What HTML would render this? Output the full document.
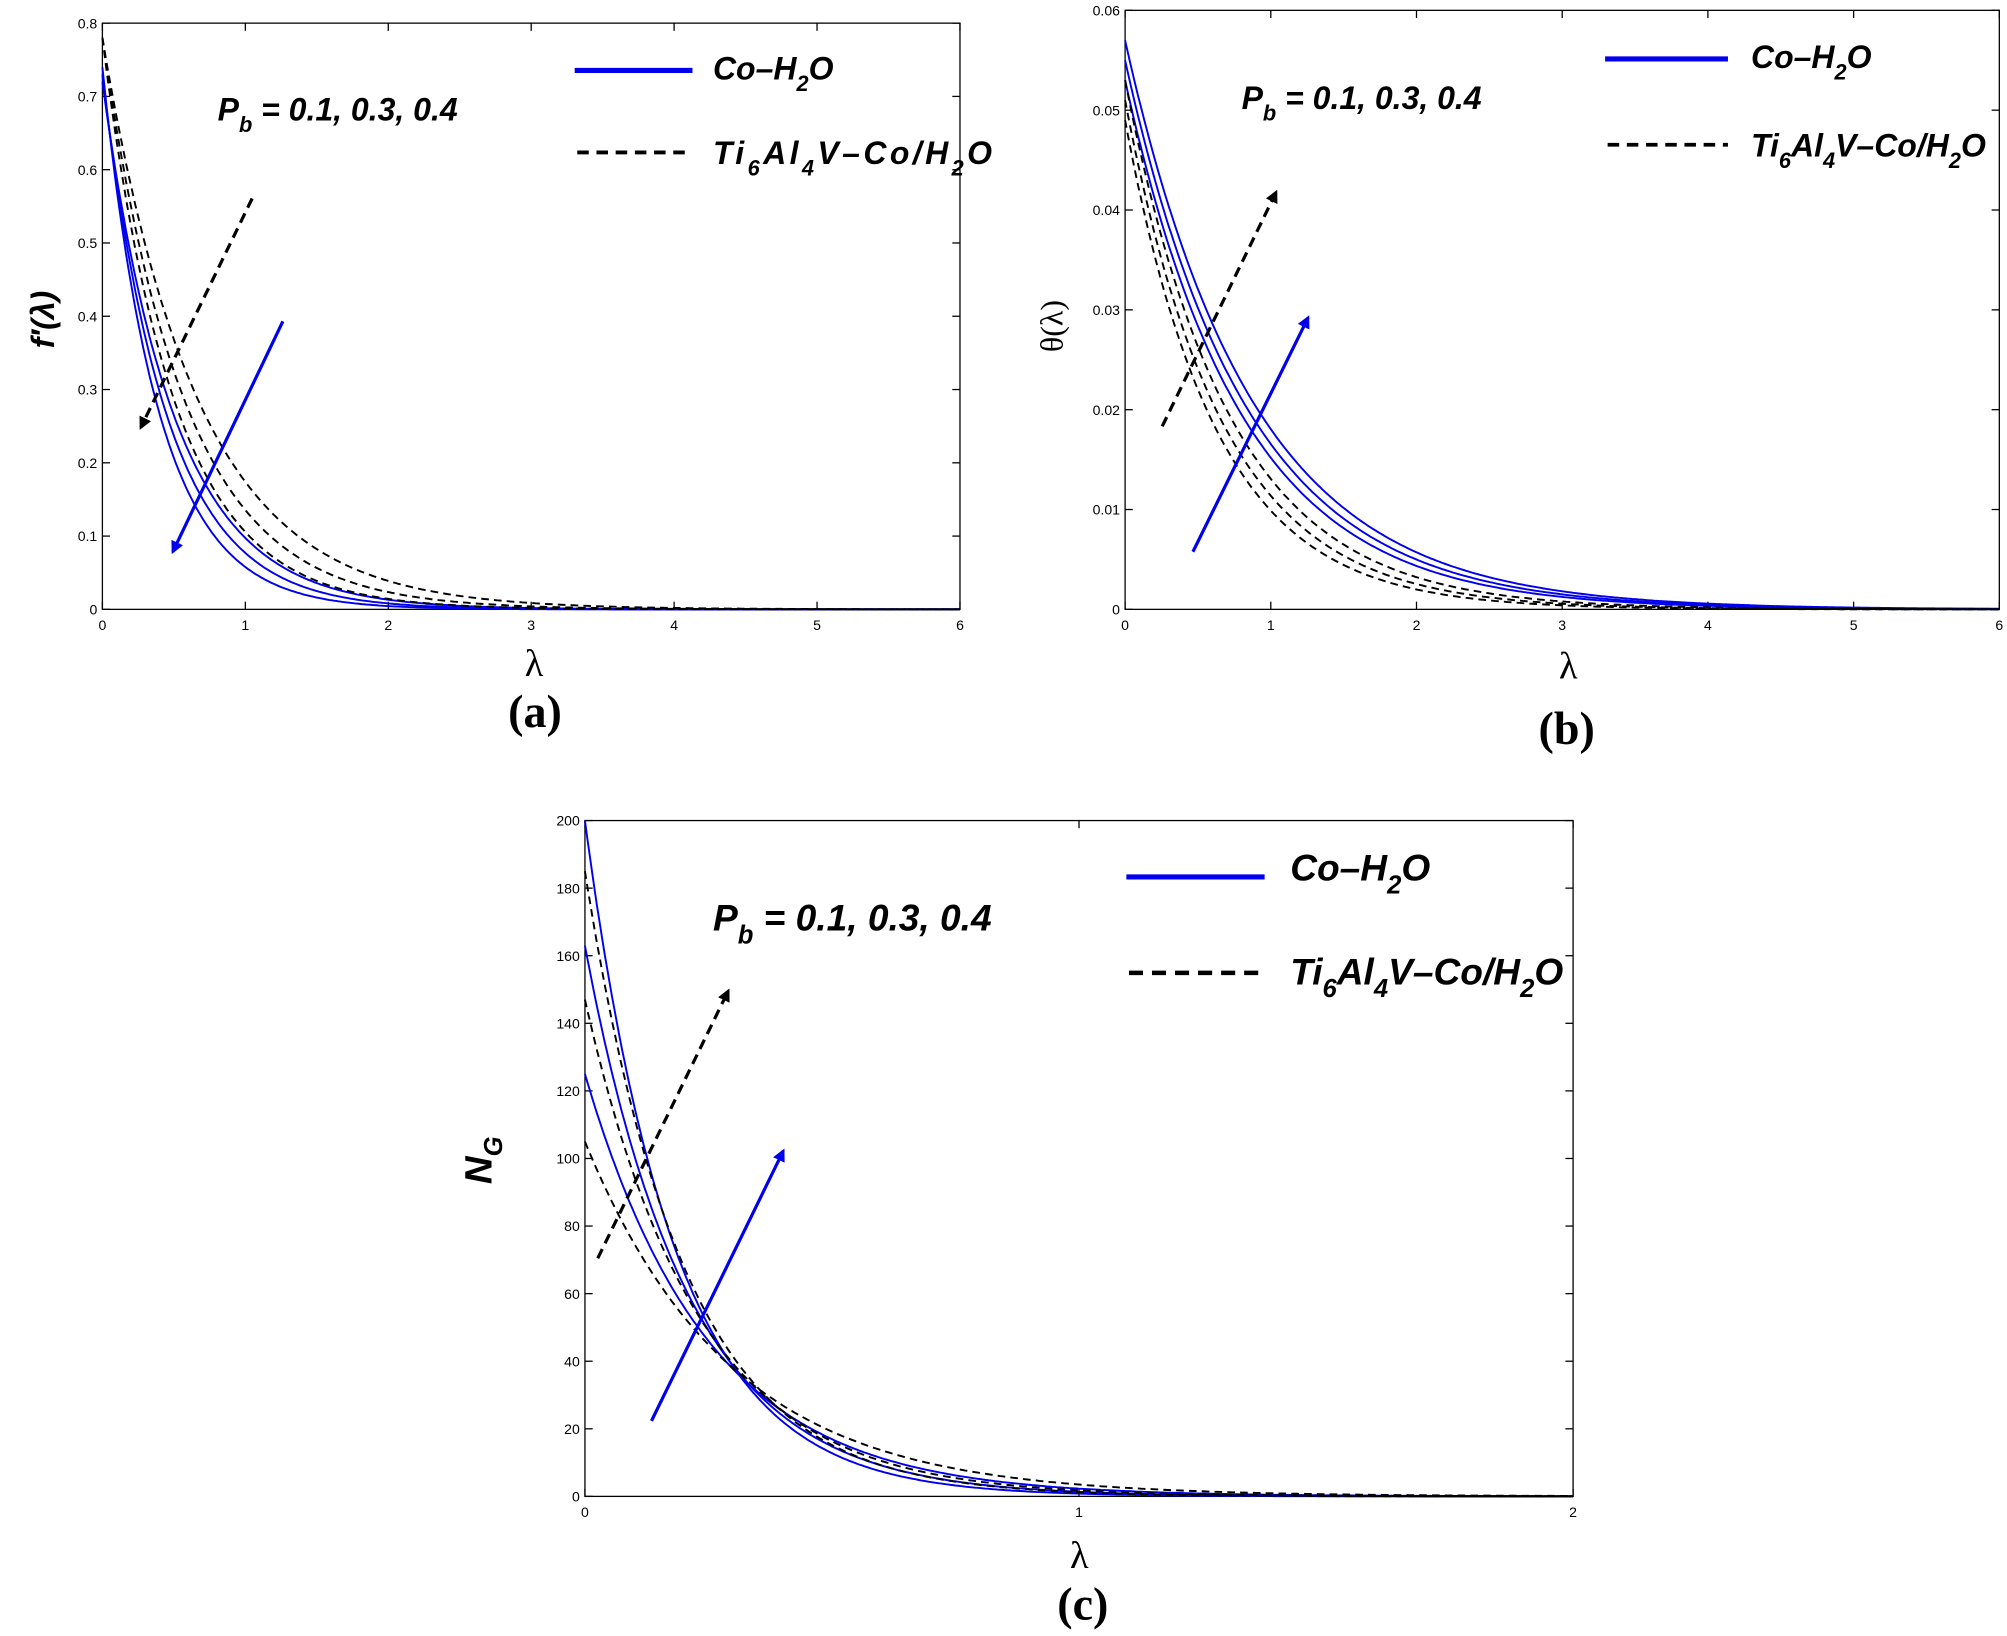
<!DOCTYPE html>
<html><head><meta charset="utf-8"><style>
html,body{margin:0;padding:0;background:#fff;}
svg{display:block;}
.t{font-family:"Liberation Sans",sans-serif;font-size:11px;fill:#000;}
.lg{font-family:"Liberation Sans",sans-serif;font-weight:bold;font-style:italic;font-size:25px;fill:#000;}
.lg2{font-family:"Liberation Sans",sans-serif;font-weight:bold;font-style:italic;font-size:29px;fill:#000;}
.cap{font-family:"Liberation Serif",serif;font-weight:bold;font-size:36px;fill:#000;}
.ax{font-family:"Liberation Serif",serif;font-size:30px;fill:#000;}
</style></head><body>
<svg id="s" width="2007" height="1636" viewBox="0 0 1568 1278" xmlns="http://www.w3.org/2000/svg">
<defs>
<marker id="ab" markerWidth="10" markerHeight="10" refX="8" refY="5" orient="auto" markerUnits="userSpaceOnUse"><path d="M0,0 L10,5 L0,10 z" fill="#0000ee"/></marker>
<marker id="ak" markerWidth="10" markerHeight="10" refX="8" refY="5" orient="auto" markerUnits="userSpaceOnUse"><path d="M0,0 L10,5 L0,10 z" fill="#000"/></marker>
</defs>
<g id="g"></g>
<line x1="449" y1="55" x2="541" y2="55" stroke="#0000ee" stroke-width="4"/>
<text class="lg" x="557" y="62">Co–H<tspan dy="9" font-size="17">2</tspan><tspan dy="-9">O</tspan></text>
<line x1="451" y1="119" x2="541" y2="119" stroke="#000" stroke-width="3" stroke-dasharray="9,6"/>
<text class="lg" x="557" y="128" textLength="218">Ti<tspan dy="9" font-size="17">6</tspan><tspan dy="-9">Al</tspan><tspan dy="9" font-size="17">4</tspan><tspan dy="-9">V–Co/H</tspan><tspan dy="9" font-size="17">2</tspan><tspan dy="-9">O</tspan></text>
<text class="lg" x="170" y="94">P<tspan dy="9" font-size="17">b</tspan><tspan dy="-9"> =  0.1, 0.3, 0.4</tspan></text>

<line x1="1254" y1="46" x2="1350" y2="46" stroke="#0000ee" stroke-width="4"/>
<text class="lg" x="1368" y="53">Co–H<tspan dy="9" font-size="17">2</tspan><tspan dy="-9">O</tspan></text>
<line x1="1256" y1="113" x2="1350" y2="113" stroke="#000" stroke-width="3" stroke-dasharray="9,6"/>
<text class="lg" x="1368" y="122">Ti<tspan dy="9" font-size="17">6</tspan><tspan dy="-9">Al</tspan><tspan dy="9" font-size="17">4</tspan><tspan dy="-9">V–Co/H</tspan><tspan dy="9" font-size="17">2</tspan><tspan dy="-9">O</tspan></text>
<text class="lg" x="970" y="85">P<tspan dy="9" font-size="17">b</tspan><tspan dy="-9"> =  0.1, 0.3, 0.4</tspan></text>

<line x1="880" y1="685" x2="988" y2="685" stroke="#0000ee" stroke-width="4"/>
<text class="lg2" x="1008" y="688">Co–H<tspan dy="10" font-size="20">2</tspan><tspan dy="-10">O</tspan></text>
<line x1="882" y1="760" x2="988" y2="760" stroke="#000" stroke-width="3.5" stroke-dasharray="11,7"/>
<text class="lg2" x="1008" y="769">Ti<tspan dy="10" font-size="20">6</tspan><tspan dy="-10">Al</tspan><tspan dy="10" font-size="20">4</tspan><tspan dy="-10">V–Co/H</tspan><tspan dy="10" font-size="20">2</tspan><tspan dy="-10">O</tspan></text>
<text class="lg2" x="557" y="727">P<tspan dy="10" font-size="20">b</tspan><tspan dy="-10"> =  0.1, 0.3, 0.4</tspan></text>

<text class="ax" x="410" y="528">λ</text>
<text class="ax" x="1218" y="530">λ</text>
<text class="ax" x="836" y="1225">λ</text>
<text transform="translate(42,272) rotate(-90)" style="font-family:'Liberation Sans',sans-serif;font-weight:bold;font-style:italic;font-size:25px">f′(λ)</text>
<text class="ax" transform="translate(830,275) rotate(-90)" style="font-size:25px">θ(λ)</text>
<text transform="translate(384,925) rotate(-90)" style="font-family:'Liberation Sans',sans-serif;font-weight:bold;font-style:italic;font-size:30px">N<tspan dy="8" font-size="20">G</tspan></text>
<text class="cap" x="397" y="568">(a)</text>
<text class="cap" x="1202" y="581">(b)</text>
<text class="cap" x="826" y="1265">(c)</text>
</svg>
<script>
const g=document.getElementById('g');const NS='http://www.w3.org/2000/svg';
function el(n,a){const e=document.createElementNS(NS,n);for(const k in a)e.setAttribute(k,a[k]);g.appendChild(e);return e;}
function txt(x,y,s,anchor){const e=el('text',{x:x,y:y,class:'t','text-anchor':anchor});e.textContent=s;}
function plot(P){
 const {x0,x1,y0,y1,xmax,ymax,xt,yt,yfmt}=P;
 const X=v=>x0+(x1-x0)*v/xmax, Y=v=>y1-(y1-y0)*v/ymax;
 el('rect',{x:x0,y:y0,width:x1-x0,height:y1-y0,fill:'none',stroke:'#000','stroke-width':1});
 xt.forEach(v=>{el('line',{x1:X(v),y1:y1,x2:X(v),y2:y1-6,stroke:'#000'});el('line',{x1:X(v),y1:y0,x2:X(v),y2:y0+6,stroke:'#000'});txt(X(v),y1+16,String(v),'middle');});
 yt.forEach(v=>{el('line',{x1:x0,y1:Y(v),x2:x0+6,y2:Y(v),stroke:'#000'});el('line',{x1:x1,y1:Y(v),x2:x1-6,y2:Y(v),stroke:'#000'});txt(x0-4,Y(v)+4,yfmt(v),'end');});
 P.curves.forEach(c=>{let pts=[];for(let i=0;i<=400;i++){const l=xmax*i/400;pts.push(X(l).toFixed(1)+','+Y(c[0]*Math.exp(-c[1]*l)).toFixed(1));}
  el('polyline',{points:pts.join(' '),fill:'none',stroke:c[2]?'#000':'#0000ee','stroke-width':1.5,'stroke-dasharray':c[2]?'6,4':'none'});});
 P.arrows.forEach(a=>el('line',{x1:a[0],y1:a[1],x2:a[2],y2:a[3],stroke:a[4]?'#000':'#0000ee','stroke-width':2.5,'stroke-dasharray':a[4]?'8,5':'none','marker-end':a[4]?'url(#ak)':'url(#ab)'}));
}
const f1=v=>v===0?'0':v.toFixed(1), f2=v=>v===0?'0':v.toFixed(2), f0=v=>String(v);
plot({x0:80,x1:750,y0:18,y1:476,xmax:6,ymax:0.8,xt:[0,1,2,3,4,5,6],yt:[0,.1,.2,.3,.4,.5,.6,.7,.8],yfmt:f1,
 curves:[[0.72,2.0],[0.73,2.25],[0.74,2.55],[0.78,1.5,1],[0.78,1.75,1],[0.78,2.0,1]],
 arrows:[[197,155,110,334,1],[221,251,135,431,0]]});
plot({x0:879,x1:1562,y0:8,y1:476,xmax:6,ymax:0.06,xt:[0,1,2,3,4,5,6],yt:[0,.01,.02,.03,.04,.05,.06],yfmt:f2,
 curves:[[0.057,1.15],[0.055,1.2],[0.053,1.25],[0.053,1.4,1],[0.051,1.5,1],[0.049,1.6,1]],
 arrows:[[908,333,997,150,1],[932,431,1022,248,0]]});
plot({x0:457,x1:1229,y0:641,y1:1169,xmax:2,ymax:200,xt:[0,1,2],yt:[0,20,40,60,80,100,120,140,160,180,200],yfmt:f0,
 curves:[[200,5.5],[163,4.8],[125,4.0],[185,5.0,1],[147,4.4,1],[105,3.4,1]],
 arrows:[[467,983,569,774,1],[509,1110,612,899,0]]});
</script>
</body></html>
